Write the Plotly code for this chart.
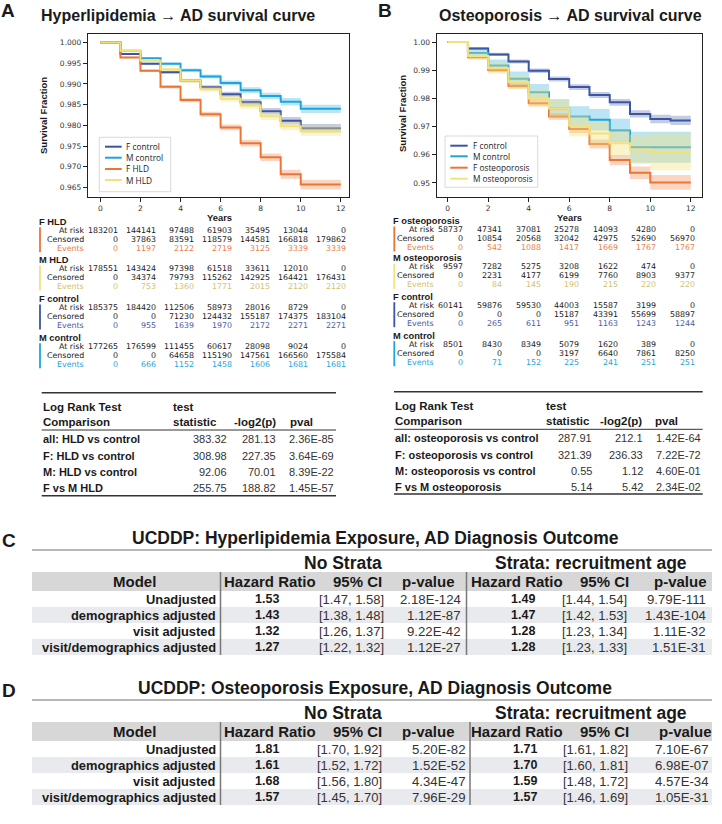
import plotly.graph_objects as go

W, H = 722, 824
def px(x): return x / W
def py(y): return 1 - y / H

ARIAL = "Liberation Sans, Arial, Helvetica, sans-serif"
NARROW = "Liberation Sans Narrow, Arial Narrow, Liberation Sans, Arial, sans-serif"
DEJAVU = "DejaVu Sans, sans-serif"
LEGF = "Open Sans, DejaVu Sans, sans-serif"
TXT = "#1a1a1a"

# ---------------- colours ----------------
C_F_CTRL = "#3B55A3"
C_M_CTRL = "#1EA4DC"
C_F_EXP = "#EC7535"
C_M_EXP = "#F2E27C"
EV_F_CTRL = "#4A5BA8"
EV_M_CTRL = "#1EA4DC"
EV_F_EXP = "#E8804A"
EV_M_EXP = "#CFC270"

# ---------------- panel A survival data ----------------
years_a = [0, 1, 2, 3, 4, 5, 6, 7, 8, 9, 10, 12]
a_f_control = [1.0, 0.9972, 0.9949, 0.9928, 0.9908, 0.9892, 0.9875, 0.9856, 0.9834, 0.9811, 0.9793, 0.9793]
a_m_control = [1.0, 0.9980, 0.9962, 0.9949, 0.9933, 0.9918, 0.9902, 0.9885, 0.9871, 0.9857, 0.9840, 0.9840]
a_f_hld = [1.0, 0.9964, 0.9932, 0.9893, 0.9861, 0.9827, 0.9795, 0.9757, 0.9723, 0.9682, 0.9657, 0.9657]
a_m_hld = [1.0, 0.9980, 0.9956, 0.9935, 0.9908, 0.9887, 0.9864, 0.9848, 0.9822, 0.9798, 0.9786, 0.9786]
a_f_control_ci = [0, 0.0001, 0.0002, 0.0003, 0.0004, 0.0005, 0.0006, 0.0007, 0.0008, 0.0009, 0.0010, 0.0010]
a_m_control_ci = [0, 0.0001, 0.0002, 0.0003, 0.0004, 0.0005, 0.0006, 0.0007, 0.0008, 0.0009, 0.0010, 0.0010]
a_f_hld_ci = [0, 0.0002, 0.0003, 0.0004, 0.0005, 0.0006, 0.0007, 0.0008, 0.0009, 0.0011, 0.0012, 0.0012]
a_m_hld_ci = [0, 0.0002, 0.0003, 0.0004, 0.0005, 0.0006, 0.0007, 0.0008, 0.0009, 0.0010, 0.0011, 0.0011]

# ---------------- panel B survival data ----------------
years_b = [0, 1, 2, 3, 4, 5, 6, 7, 8, 9, 10, 11, 12]
b_f_control = [1.0, 0.9977, 0.9956, 0.9931, 0.9898, 0.9869, 0.9840, 0.9812, 0.9786, 0.9745, 0.9727, 0.9722, 0.9722]
b_m_control = [1.0, 0.9961, 0.9917, 0.9870, 0.9822, 0.9764, 0.9736, 0.9724, 0.9686, 0.9627, 0.9627, 0.9627, 0.9627]
b_f_osteo = [1.0, 0.9946, 0.9901, 0.9844, 0.9783, 0.9736, 0.9691, 0.9638, 0.9581, 0.9536, 0.9502, 0.9502, 0.9502]
b_m_osteo = [1.0, 0.9950, 0.9907, 0.9858, 0.9800, 0.9764, 0.9703, 0.9675, 0.9641, 0.9619, 0.9610, 0.9610, 0.9610]
b_f_control_ci = [0, 0.0005, 0.0006, 0.0007, 0.0008, 0.0009, 0.0010, 0.0011, 0.0012, 0.0013, 0.0015, 0.0016, 0.0016]
b_m_control_ci = [0, 0.0015, 0.0021, 0.0025, 0.0029, 0.0033, 0.0036, 0.0038, 0.0042, 0.0055, 0.0055, 0.0055, 0.0055]
b_f_osteo_ci = [0, 0.0005, 0.0007, 0.0009, 0.0011, 0.0012, 0.0014, 0.0016, 0.0018, 0.0022, 0.0026, 0.0026, 0.0026]
b_m_osteo_ci = [0, 0.0014, 0.0020, 0.0025, 0.0030, 0.0034, 0.0038, 0.0042, 0.0046, 0.0052, 0.0065, 0.0065, 0.0065]

# ---------------- at-risk tables ----------------
risk_rows = ["At risk", "Censored", "Events"]
a_fhld_risk = [183201, 144141, 97488, 61903, 35495, 13044, 0]
a_fhld_cens = [0, 37863, 83591, 118579, 144581, 166818, 179862]
a_fhld_ev = [0, 1197, 2122, 2719, 3125, 3339, 3339]
a_mhld_risk = [178551, 143424, 97398, 61518, 33611, 12010, 0]
a_mhld_cens = [0, 34374, 79793, 115262, 142925, 164421, 176431]
a_mhld_ev = [0, 753, 1360, 1771, 2015, 2120, 2120]
a_fctl_risk = [185375, 184420, 112506, 58973, 28016, 8729, 0]
a_fctl_cens = [0, 0, 71230, 124432, 155187, 174375, 183104]
a_fctl_ev = [0, 955, 1639, 1970, 2172, 2271, 2271]
a_mctl_risk = [177265, 176599, 111455, 60617, 28098, 9024, 0]
a_mctl_cens = [0, 0, 64658, 115190, 147561, 166560, 175584]
a_mctl_ev = [0, 666, 1152, 1458, 1606, 1681, 1681]

b_fost_risk = [58737, 47341, 37081, 25278, 14093, 4280, 0]
b_fost_cens = [0, 10854, 20568, 32042, 42975, 52690, 56970]
b_fost_ev = [0, 542, 1088, 1417, 1669, 1767, 1767]
b_most_risk = [9597, 7282, 5275, 3208, 1622, 474, 0]
b_most_cens = [0, 2231, 4177, 6199, 7760, 8903, 9377]
b_most_ev = [0, 84, 145, 190, 215, 220, 220]
b_fctl_risk = [60141, 59876, 59530, 44003, 15587, 3199, 0]
b_fctl_cens = [0, 0, 0, 15187, 43391, 55699, 58897]
b_fctl_ev = [0, 265, 611, 951, 1163, 1243, 1244]
b_mctl_risk = [8501, 8430, 8349, 5079, 1620, 389, 0]
b_mctl_cens = [0, 0, 0, 3197, 6640, 7861, 8250]
b_mctl_ev = [0, 71, 152, 225, 241, 251, 251]

# ---------------- log-rank tables ----------------
lr_a_names = ["all: HLD vs control", "F: HLD vs control", "M: HLD vs control", "F vs M HLD"]
lr_a_stat = [383.32, 308.98, 92.06, 255.75]
lr_a_nlog = [281.13, 227.35, 70.01, 188.82]
lr_a_p = ["2.36E-85", "3.64E-69", "8.39E-22", "1.45E-57"]
lr_b_names = ["all: osteoporosis vs control", "F: osteoporosis vs control",
              "M: osteoporosis vs control", "F vs M osteoporosis"]
lr_b_stat = [287.91, 321.39, 0.55, 5.14]
lr_b_nlog = [212.1, 236.33, 1.12, 5.42]
lr_b_p = ["1.42E-64", "7.22E-72", "4.60E-01", "2.34E-02"]

# ---------------- Cox tables ----------------
models = ["Unadjusted", "demographics adjusted", "visit adjusted", "visit/demographics adjusted"]
c_hr = [1.53, 1.43, 1.32, 1.27]
c_lo = [1.47, 1.38, 1.26, 1.22]
c_hi = [1.58, 1.48, 1.37, 1.32]
c_p = ["2.18E-124", "1.12E-87", "9.22E-42", "1.12E-27"]
c_hr_s = [1.49, 1.47, 1.28, 1.28]
c_lo_s = [1.44, 1.42, 1.23, 1.23]
c_hi_s = [1.54, 1.53, 1.34, 1.33]
c_p_s = ["9.79E-111", "1.43E-104", "1.11E-32", "1.51E-31"]
d_hr = [1.81, 1.61, 1.68, 1.57]
d_lo = [1.70, 1.52, 1.56, 1.45]
d_hi = [1.92, 1.72, 1.80, 1.70]
d_p = ["5.20E-82", "1.52E-52", "4.34E-47", "7.96E-29"]
d_hr_s = [1.71, 1.70, 1.59, 1.57]
d_lo_s = [1.61, 1.60, 1.48, 1.46]
d_hi_s = [1.82, 1.81, 1.72, 1.69]
d_p_s = ["7.10E-67", "6.98E-07", "4.57E-34", "1.05E-31"]

# =====================================================================
fig = go.Figure()
ann = []
shapes = []

def txt(x, y, s, size, family=ARIAL, color=TXT, xanchor="left", bold=False, angle=0):
    ann.append(dict(x=px(x), y=py(y), xref="paper", yref="paper",
                    text=("<b>%s</b>" % s) if bold else s, showarrow=False,
                    xanchor=xanchor, yanchor="middle", textangle=angle,
                    borderpad=0, font=dict(size=size, family=family, color=color)))

def hline(x0, x1, y, color, width):
    shapes.append(dict(type="line", xref="paper", yref="paper", x0=px(x0), x1=px(x1),
                       y0=py(y), y1=py(y), line=dict(color=color, width=width)))

def vline(x, y0, y1, color, width):
    shapes.append(dict(type="line", xref="paper", yref="paper", x0=px(x), x1=px(x),
                       y0=py(y0), y1=py(y1), line=dict(color=color, width=width)))

def rect(x0, y0, x1, y1, fill, lc=None, lw=0, layer="below"):
    shapes.append(dict(type="rect", xref="paper", yref="paper", x0=px(x0), x1=px(x1),
                       y0=py(y1), y1=py(y0), fillcolor=fill, layer=layer,
                       line=dict(color=lc or fill, width=lw)))

def rgba(hexc, a):
    h = hexc.lstrip("#")
    return "rgba(%d,%d,%d,%.2f)" % (int(h[0:2], 16), int(h[2:4], 16), int(h[4:6], 16), a)

def add_curve(xs, ys, ci, color, xa, ya, alpha=0.3):
    lo = [v - c for v, c in zip(ys, ci)]
    hi = [v + c for v, c in zip(ys, ci)]
    fig.add_trace(go.Scatter(x=xs, y=lo, mode="lines", line=dict(width=0, shape="hv", color=color),
                             xaxis=xa, yaxis=ya, hoverinfo="skip", showlegend=False))
    fig.add_trace(go.Scatter(x=xs, y=hi, mode="lines", line=dict(width=0, shape="hv", color=color),
                             fill="tonexty", fillcolor=rgba(color, alpha),
                             xaxis=xa, yaxis=ya, hoverinfo="skip", showlegend=False))
    fig.add_trace(go.Scatter(x=xs, y=ys, mode="lines", line=dict(width=2, shape="hv", color=color),
                             xaxis=xa, yaxis=ya, showlegend=False))

# Panel A curves
add_curve(years_a, a_f_control, a_f_control_ci, C_F_CTRL, "x", "y")
add_curve(years_a, a_m_control, a_m_control_ci, C_M_CTRL, "x", "y")
add_curve(years_a, a_f_hld, a_f_hld_ci, C_F_EXP, "x", "y")
add_curve(years_a, a_m_hld, a_m_hld_ci, C_M_EXP, "x", "y", alpha=0.4)
# Panel B curves
add_curve(years_b, b_f_control, b_f_control_ci, C_F_CTRL, "x2", "y2")
add_curve(years_b, b_m_control, b_m_control_ci, C_M_CTRL, "x2", "y2")
add_curve(years_b, b_f_osteo, b_f_osteo_ci, C_F_EXP, "x2", "y2")
add_curve(years_b, b_m_osteo, b_m_osteo_ci, C_M_EXP, "x2", "y2", alpha=0.4)

axis_common = dict(showline=True, mirror=True, linecolor="#222", linewidth=1.3,
                   ticks="outside", ticklen=4, tickwidth=1, tickcolor="#222",
                   showgrid=False, zeroline=False,
                   tickfont=dict(family=DEJAVU, size=7.5, color="#333"))

fig.update_layout(
    width=W, height=H, margin=dict(l=0, r=0, t=0, b=0),
    paper_bgcolor="white", plot_bgcolor="white", showlegend=False,
    xaxis=dict(domain=[px(88), px(349)], range=[-0.62, 12.41], tickvals=[0, 2, 4, 6, 8, 10, 12],
               anchor="y", **axis_common),
    yaxis=dict(domain=[py(196.7), py(34.3)], range=[0.96278, 1.00198],
               tickvals=[1.0, 0.995, 0.99, 0.985, 0.98, 0.975, 0.97, 0.965], tickformat=".3f",
               anchor="x", **axis_common),
    xaxis2=dict(domain=[px(436.7), px(702.3)], range=[-0.543, 12.57], tickvals=[0, 2, 4, 6, 8, 10, 12],
                anchor="y2", **axis_common),
    yaxis2=dict(domain=[py(196.7), py(34.3)], range=[0.94512, 1.00274],
                tickvals=[1.0, 0.99, 0.98, 0.97, 0.96, 0.95], tickformat=".2f",
                anchor="x2", **axis_common),
)

# ---------------- titles ----------------
txt(7.5, 10.5, "A", 19, bold=True, xanchor="center")
txt(177.5, 15, "Hyperlipidemia \u2192 AD survival curve", 16, bold=True, xanchor="center")
txt(385.5, 10.5, "B", 19, bold=True, xanchor="center")
txt(570, 15, "Osteoporosis \u2192 AD survival curve", 16, bold=True, xanchor="center")

txt(44, 116, "Survival Fraction", 9.5, bold=True, xanchor="center", angle=-90)
txt(402, 114, "Survival Fraction", 9.5, bold=True, xanchor="center", angle=-90)
txt(220, 217.5, "Years", 9.4, bold=True, xanchor="center")
txt(569, 217, "Years", 9.4, bold=True, xanchor="center")

# ---------------- legends ----------------
def legend(x0, y0, x1, y1, names, colors, lx0, lx1, tx, ys):
    rect(x0, y0, x1, y1, "rgba(255,255,255,0.85)", "#cfcfcf", 0.8, layer="above")
    for n, c, y in zip(names, colors, ys):
        shapes.append(dict(type="line", xref="paper", yref="paper", x0=px(lx0), x1=px(lx1),
                           y0=py(y), y1=py(y), line=dict(color=c, width=2)))
        txt(tx, y, n, 8.3, family=LEGF, color="#222")

legend(99.3, 137.3, 170.7, 191.7, ["F control", "M control", "F HLD", "M HLD"],
       [C_F_CTRL, C_M_CTRL, C_F_EXP, C_M_EXP], 105, 121.7, 125, [146.7, 157.7, 169, 180])
legend(445, 136, 537.7, 187.3, ["F control", "M control", "F osteoporosis", "M osteoporosis"],
       [C_F_CTRL, C_M_CTRL, C_F_EXP, C_M_EXP], 450.3, 467.7, 471.5, [145.7, 156.3, 167.7, 178.7])

# ---------------- at-risk tables ----------------
def risk_table(groups, g_ys, lab_left, lab_right, bar_x, c_first, c_last):
    step = (c_last - c_first) / 6
    cols = [c_first + k * step for k in range(7)]
    for (name, color, evc, rows), g in zip(groups, g_ys):
        txt(lab_left, g, name, 9.3, bold=True)
        vline(bar_x, g + 5.5, g + 30.5, color, 1.8)
        for k, (lab, vals) in enumerate(zip(risk_rows, rows)):
            y = g + 8.6 + 9 * k
            col = evc if lab == "Events" else TXT
            txt(lab_right, y, lab, 7.9, family=DEJAVU, color=col, xanchor="right")
            for v, xr in zip(vals, cols):
                txt(xr, y, str(v), 7.9, family=DEJAVU, color=col, xanchor="right")

risk_table([("F HLD", C_F_EXP, EV_F_EXP, [a_fhld_risk, a_fhld_cens, a_fhld_ev]),
            ("M HLD", C_M_EXP, EV_M_EXP, [a_mhld_risk, a_mhld_cens, a_mhld_ev]),
            ("F control", C_F_CTRL, EV_F_CTRL, [a_fctl_risk, a_fctl_cens, a_fctl_ev]),
            ("M control", C_M_CTRL, EV_M_CTRL, [a_mctl_risk, a_mctl_cens, a_mctl_ev])],
           [221.7, 260, 299, 337.7], 37.5, 85, 40, 119, 346.7)
risk_table([("F osteoporosis", C_F_EXP, EV_F_EXP, [b_fost_risk, b_fost_cens, b_fost_ev]),
            ("M osteoporosis", C_M_EXP, EV_M_EXP, [b_most_risk, b_most_cens, b_most_ev]),
            ("F control", C_F_CTRL, EV_F_CTRL, [b_fctl_risk, b_fctl_cens, b_fctl_ev]),
            ("M control", C_M_CTRL, EV_M_CTRL, [b_mctl_risk, b_mctl_cens, b_mctl_ev])],
           [221, 258.3, 296.7, 335.7], 392, 435, 394.3, 464.3, 696)

# ---------------- log-rank tables ----------------
def logrank(x0, x1, top, mid, bot, hdr_x, rows_y, col_r, names, stat, nlog, pv):
    hline(x0, x1, top, "#333", 1.6)
    hline(x0, x1, mid, "#333", 1.0)
    hline(x0, x1, bot, "#333", 1.6)
    hy1, hy2 = top + 14, top + 29
    txt(x0 + 0.5, hy1, "Log Rank Test", 11.5, bold=True)
    txt(x0 + 0.5, hy2, "Comparison", 11.5, bold=True)
    txt(hdr_x[0], hy1, "test", 11.5, bold=True)
    txt(hdr_x[0], hy2, "statistic", 11.5, bold=True)
    txt(hdr_x[1], hy2, "-log2(p)", 11.5, bold=True)
    txt(hdr_x[2], hy2, "pval", 11.5, bold=True)
    for y, n, s, l, p in zip(rows_y, names, stat, nlog, pv):
        txt(x0 + 0.5, y, n, 11, bold=True)
        txt(col_r[0], y, str(s), 11, color="#333", xanchor="right")
        txt(col_r[1], y, str(l), 11, color="#333", xanchor="right")
        txt(col_r[2], y, p, 11, color="#333", xanchor="right")

logrank(41.7, 336, 392.7, 430, 495.7, [171.7, 233, 289], [439.3, 455.7, 471.8, 488.2],
        [227.7, 276.7, 335], lr_a_names, lr_a_stat, lr_a_nlog, lr_a_p)
logrank(394, 702.7, 391.7, 429.3, 494, [545.3, 598.7, 654], [438.3, 454.7, 470.8, 487.2],
        [593.3, 643.7, 701.7], lr_b_names, lr_b_stat, lr_b_nlog, lr_b_p)

# ---------------- Cox tables ----------------
def cox_table(letter, title, y0, div2, p_r, hr2_c, ci2_r, p2_r, ci_r, p_hdr2, hr, lo, hi, p, hr2, lo2, hi2, p2):
    x0, x1 = 32, 712
    txt(8.5, y0 + 2, letter, 19, bold=True, xanchor="center")
    txt(375, y0, title, 17.5, family=NARROW, bold=True, xanchor="center")
    hline(x0, x1, y0 + 12, "#b8b8b8", 2)
    txt(343, y0 + 25, "No Strata", 17.5, family=NARROW, bold=True, xanchor="center")
    txt(590.5, y0 + 25, "Strata: recruitment age", 17.5, family=NARROW, bold=True, xanchor="center")
    ht, hb = y0 + 34, y0 + 53
    rect(x0, ht, x1, hb, "#d7d7d7")
    hy = (ht + hb) / 2
    txt(134, hy, "Model", 15, family=NARROW, bold=True, xanchor="center")
    txt(269.5, hy, "Hazard Ratio", 15, family=NARROW, bold=True, xanchor="center")
    txt(357, hy, "95% CI", 15, family=NARROW, bold=True, xanchor="center")
    txt(428, hy, "p-value", 15, family=NARROW, bold=True, xanchor="center")
    txt(517, hy, "Hazard Ratio", 15, family=NARROW, bold=True, xanchor="center")
    txt(604.5, hy, "95% CI", 15, family=NARROW, bold=True, xanchor="center")
    txt(p_hdr2, hy, "p-value", 15, family=NARROW, bold=True, xanchor="center")
    rh = 16
    for i, m in enumerate(models):
        t = hb + i * rh
        if i % 2 == 1:
            rect(x0, t, x1, t + rh, "#e9eaed")
        y = t + rh / 2
        txt(217, y, m, 12.9, family=NARROW, bold=True, xanchor="right")
        txt(267, y, "%.2f" % hr[i], 12.5, family=NARROW, bold=True, xanchor="center")
        txt(ci_r, y, "[%.2f, %.2f]" % (lo[i], hi[i]), 13, family=NARROW, color="#333", xanchor="right")
        txt(p_r, y, p[i], 13.2, family=NARROW, color="#333", xanchor="right")
        txt(hr2_c, y, "%.2f" % hr2[i], 12.5, family=NARROW, bold=True, xanchor="center")
        txt(ci2_r, y, "[%.2f, %.2f]" % (lo2[i], hi2[i]), 13, family=NARROW, color="#333", xanchor="right")
        txt(p2_r, y, p2[i], 13.2, family=NARROW, color="#333", xanchor="right")
    bot = hb + 4 * rh
    vline(220.5, ht, bot, "#777", 1.5)
    vline(div2, ht, bot, "#777", 1.5)

cox_table("C", "UCDDP: Hyperlipidemia Exposure, AD Diagnosis Outcome", 538, 466.5, 462, 523, 627.5, 707, 385, 680,
          c_hr, c_lo, c_hi, c_p, c_hr_s, c_lo_s, c_hi_s, c_p_s)
cox_table("D", "UCDDP: Osteoporosis Exposure, AD Diagnosis Outcome", 688, 470, 467, 525, 629, 709.5, 382.5, 685,
          d_hr, d_lo, d_hi, d_p, d_hr_s, d_lo_s, d_hi_s, d_p_s)

fig.update_layout(annotations=ann, shapes=shapes)
fig.write_html("out.html", config={"displayModeBar": False},
               post_script="document.body.style.margin='0px';document.body.style.padding='0px';")
